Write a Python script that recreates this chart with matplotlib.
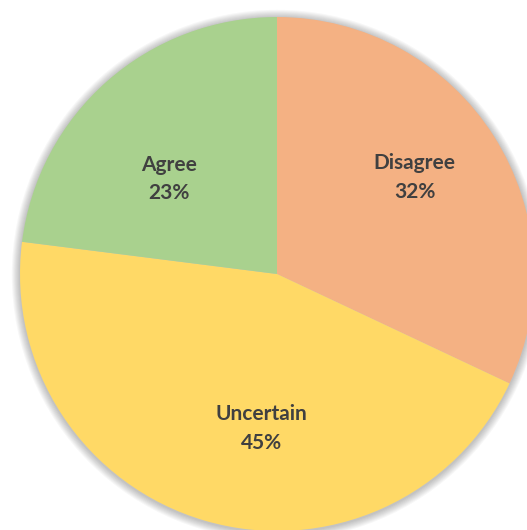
import matplotlib
matplotlib.use("Agg")
import matplotlib.pyplot as plt
from matplotlib.patches import Circle

categories = ["Disagree", "Uncertain", "Agree"]
shares = [32, 45, 23]
colors = ["#F4B183", "#FFD966", "#A9D18E"]

# label anchor points (pie units), Excel best-fit placement
label_pos = [(0.535, 0.375), (-0.06, -0.6), (-0.42, 0.37)]

plt.rcParams['font.family'] = ['Lato', 'DejaVu Sans']

fig = plt.figure(figsize=(5.27, 5.30), dpi=100)
ax = fig.add_axes([0, 0, 1, 1])

R = 257.0
cx, cy = 277.0, 274.0

# soft shadow
for i in range(8):
	ax.add_patch(Circle((0.0, -0.004), 1.0 + 0.004 * (i + 1), color='black',
		alpha=0.03, lw=0, zorder=0))

wedges, _ = ax.pie(shares, colors=colors, startangle=90, counterclock=False,
	radius=1.0, wedgeprops=dict(linewidth=0))
for w in wedges:
	w.set_zorder(1)

total = sum(shares)
for name, val, (x, y) in zip(categories, shares, label_pos):
	ax.text(x, y, f"{name}\n{round(val / total * 100)}%", ha='center', va='center',
		fontsize=15, fontweight='bold', color='#404040', linespacing=1.55, zorder=3)

ax.set_xlim(-cx / R, (527 - cx) / R)
ax.set_ylim(-(530 - cy) / R, cy / R)
ax.set_aspect('equal')
ax.axis('off')

fig.savefig("out.png", dpi=100, facecolor='white')
